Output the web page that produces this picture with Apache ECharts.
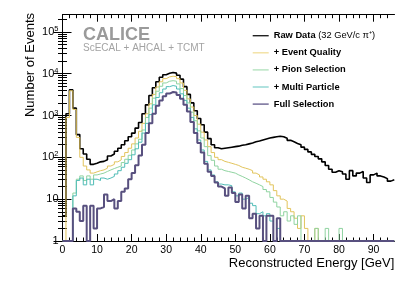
<!DOCTYPE html>
<html>
<head>
<meta charset="utf-8">
<script src="https://cdn.jsdelivr.net/npm/echarts@6/dist/echarts.min.js"></script>
<style>
html,body{margin:0;padding:0;background:#fff;}
#c{width:415px;height:281px;}
</style>
</head>
<body>
<div id="c"></div>
<script>
// Histogram bins: 1 GeV wide, starting at 0 GeV
var binStart = 0;
var binWidth = 1;
var xTickLabels = [0, 10, 20, 30, 40, 50, 60, 70, 80, 90];
var yTickLabels = [1, 10, 100, 1000, 10000, 100000];
var seriesNames = ['Raw Data', '+ Event Quality', '+ Pion Selection', '+ Multi Particle', 'Full Selection'];

var rawData = [4,1100,4100,1500,350,160,120,90,68,72,78,80,88,108,120,140,165,200,250,310,
  380,500,680,1100,1800,3000,4600,6400,8200,9400,10200,10700,10300,9200,7400,4900,3200,2000,1300,850,
  600,400,280,200,170,160,165,170,175,180,185,195,200,210,220,235,245,260,275,290,
  300,310,320,310,285,255,235,215,200,175,155,135,118,105,92,78,64,52,44,48,
  45,40,30,48,36,42,46,32,25,38,42,36,34,31,27,29];
var eventQuality = [1,900,3900,1400,300,100,62,50,42,45,48,50,55,62,68,78,87,105,130,165,
  210,290,420,650,1100,1900,3200,4800,6400,7600,8400,8700,8500,7600,6000,4000,2500,1600,1000,620,
  400,260,180,130,100,88,80,76,72,68,64,58,55,52,48,42,38,34,30,26,
  22,16,12,10,9,6,5,3.5,2,4,2,1,1,2,1,1,1,1,1,1,
  1,1,1,1,1,1,1,1,1,1,1,1,1,1,1,1];
var pionSelection = [1,1,1,14,30,36,28,36,30,38,40,42,46,50,54,58,62,75,90,112,
  150,210,270,450,900,1500,2600,3800,5000,6000,6600,6800,6600,5700,4400,3000,2000,1200,750,430,
  290,180,110,85,62,52,48,46,44,42,38,35,32,29,26,24,22,20,17,15,
  11,8.5,6.5,4,5,3,4,2.5,4,1,1,1,1,2,1,1,2,1,1,1,
  2,1,1,1,1,1,1,1,1,1,1,1,1,1,1,1];
var multiParticle = [1,1,1,12,28,32,22,30,22,30,28,32,30,32,35,40,48,58,72,88,
  115,160,230,380,650,1050,1800,2700,3500,4300,4900,5200,5000,4300,3300,2300,1500,900,480,260,
  150,80,50,38,26,23,22,22,21,15,12,14,10,11,8,7,4.5,5,4,4.5,
  3,1,2,1,1,1,1,1,1,1,1,1,1,1,1,1,1,1,1,1,
  1,1,1,1,1,1,1,1,1,1,1,1,1,1,1,1];
var fullSelection = [1,1,1,6,5,3,7,1,7,2,6,6.5,13,9,10,6,9,15,18,30,
  42,65,110,200,380,650,1100,1700,2300,2900,3350,3650,3550,3100,2500,1800,1250,700,380,220,
  130,70,45,36,25,20,18,12,19,14,8.5,13,6,12,3.5,4.5,2,4,1,4,
  4,1,3.5,1,1,1,1,1,1,1,1,1,1,1,1,1,1,1,1,1,
  1,1,1,1,1,1,1,1,1,1,1,1,1,1,1,1];

var seriesValues = [rawData, eventQuality, pionSelection, multiParticle, fullSelection];
var seriesColors = ['#000000', '#e2c45c', '#8fd3a0', '#4fbcb6', '#58507f'];
var legendColors = ['#222222', '#f2e0a0', '#b5e3c0', '#8fd6d2', '#6a6290'];
var seriesWidths = [1.6, 1, 1, 1, 2];

function toSteps(vals) {
  var pts = [];
  for (var i = 0; i < vals.length; i++) pts.push([binStart + i * binWidth, vals[i]]);
  pts.push([binStart + vals.length * binWidth, vals[vals.length - 1]]);
  return pts;
}

var xMinor = [];
for (var a = 0; a < 96; a += 2) { if (a % 10 !== 0) xMinor.push(a); }
var yMinor = [];
for (var d = 1; d <= 100000; d *= 10) { for (var m = 2; m <= 9; m++) { if (m * d < 257000) yMinor.push(m * d); } }

var FONT = 'Liberation Sans, Arial, Helvetica, sans-serif';
var xMax = 96, yMax = 257000;

function xAx(pos, ticks, len, labels) {
  return {
    type: 'value', min: 0, max: xMax, position: pos, gridIndex: 0,
    axisLine: {show: true, onZero: false, lineStyle: {color: '#000', width: 1}},
    axisTick: {show: true, inside: true, length: len, customValues: ticks, lineStyle: {color: '#000', width: 1}},
    axisLabel: labels ? {show: true, customValues: labels, color: '#000', fontSize: 10.5, fontFamily: FONT, margin: 4} : {show: false},
    splitLine: {show: false}
  };
}
function yAx(pos, ticks, len, labels) {
  return {
    type: 'log', logBase: 10, min: 1, max: yMax, position: pos, gridIndex: 0,
    axisLine: {show: true, lineStyle: {color: '#000', width: 1}},
    axisTick: {show: true, inside: true, length: len, customValues: ticks, lineStyle: {color: '#000', width: 1}},
    axisLabel: labels ? {
      show: true, customValues: labels, color: '#000', fontSize: 11, fontFamily: FONT, margin: 4, lineHeight: 14,
      formatter: function (v) {
        if (v < 5) return '1';
        if (v < 50) return '10';
        return '10{s|' + Math.round(Math.log10(v)) + '}';
      },
      rich: {s: {fontSize: 7.5, fontFamily: FONT, color: '#000', verticalAlign: 'top', lineHeight: 9}}
    } : {show: false},
    splitLine: {show: false}
  };
}

var series = seriesNames.map(function (n, i) {
  return {
    name: n, type: 'line', step: 'end', xAxisIndex: 0, yAxisIndex: 0,
    symbol: 'none', showSymbol: false, clip: true,
    data: toSteps(seriesValues[i]),
    lineStyle: {color: seriesColors[i], width: seriesWidths[i]},
    itemStyle: {color: seriesColors[i]},
    z: 2 + i
  };
});

var chart = echarts.init(document.getElementById('c'), null, {renderer: 'canvas'});
chart.setOption({
  animation: false,
  backgroundColor: '#fff',
  grid: {left: 62.5, right: 20.7, top: 14.7, bottom: 40, containLabel: false, outerBoundsMode: 'none'},
  xAxis: [
    xAx('bottom', xTickLabels, 7, xTickLabels),
    xAx('bottom', xMinor, 3.5, null),
    xAx('top', xTickLabels, 7, null),
    xAx('top', xMinor, 3.5, null)
  ],
  yAxis: [
    yAx('left', yTickLabels, 9, yTickLabels),
    yAx('left', yMinor, 4.5, null),
    yAx('right', yTickLabels, 9, null),
    yAx('right', yMinor, 4.5, null)
  ],
  legend: {
    show: true, orient: 'vertical', left: 252.7, top: 29.7, padding: 0,
    icon: 'rect', itemWidth: 16, itemHeight: 1.4, itemGap: 5.1,
    data: seriesNames.map(function (n, i) {
      return {name: n, itemStyle: {color: legendColors[i], borderWidth: 0}};
    }),
    formatter: function (n) {
      if (n === 'Raw Data') return '{b|Raw Data} {n|(32 GeV/c \u03c0\u207a)}';
      return '{b|' + n + '}';
    },
    textStyle: {
      color: '#000', fontSize: 9.3, fontFamily: FONT, fontWeight: 'bold', lineHeight: 12,
      rich: {
        b: {fontSize: 9.3, fontFamily: FONT, fontWeight: 'bold', color: '#000', lineHeight: 12},
        n: {fontSize: 9.3, fontFamily: FONT, fontWeight: 'normal', color: '#000', lineHeight: 12}
      }
    }
  },
  graphic: [
    {type: 'text', x: 30, y: 13, rotation: Math.PI / 2,
      style: {text: 'Number of Events', font: '13px ' + FONT, fill: '#000', align: 'right', verticalAlign: 'middle'}},
    {type: 'text', x: 394.3, y: 263,
      style: {text: 'Reconstructed Energy [GeV]', font: '13px ' + FONT, fill: '#000', align: 'right', verticalAlign: 'middle'}},
    {type: 'text', x: 83, y: 35.5,
      style: {text: 'CALICE', font: 'bold 18px ' + FONT, fill: '#9a9a9a', align: 'left', verticalAlign: 'middle'}},
    {type: 'text', x: 83, y: 48.5,
      style: {text: 'ScECAL + AHCAL + TCMT', font: '10px ' + FONT, fill: '#a3a3a3', align: 'left', verticalAlign: 'middle'}}
  ],
  series: series
});
</script>
</body>
</html>
